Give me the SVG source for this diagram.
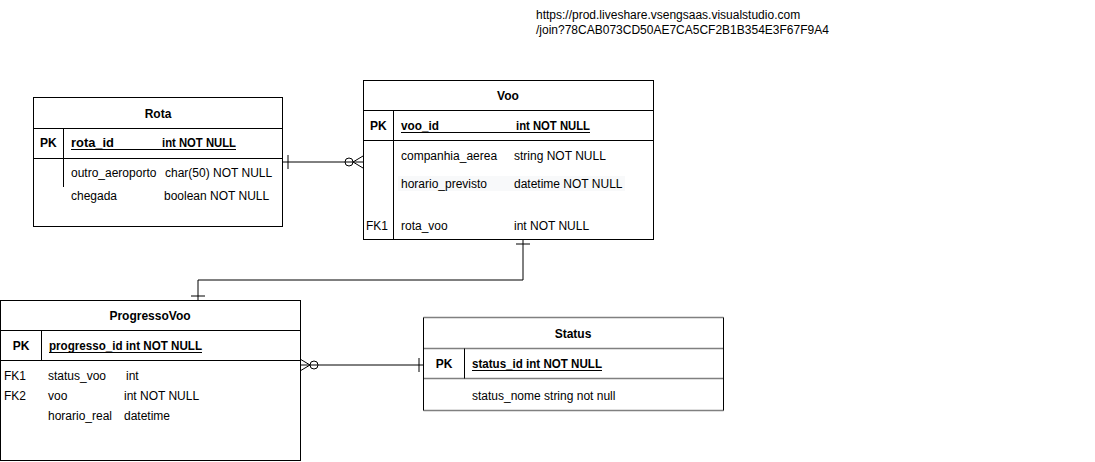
<svg xmlns="http://www.w3.org/2000/svg" width="1095" height="462" viewBox="0 0 1095 462">
<style>
text{font-family:"Liberation Sans",Arial,sans-serif;font-size:12px;fill:#000}
.b{font-weight:bold}
.c{text-anchor:middle}
.box{fill:#fff;stroke:#000;stroke-width:1}
.ln{stroke:#000;stroke-width:1;fill:none}
.gl{stroke:#808080;stroke-width:1.5;fill:none}
.ul{stroke:#000;stroke-width:1}
</style>
<rect width="1095" height="462" fill="#fff"/>
<g id="url">
<text x="536" y="19">https://prod.liveshare.vsengsaas.visualstudio.com</text>
<text x="536" y="34">/join?78CAB073CD50AE7CA5CF2B1B354E3F67F9A4</text>
</g>
<g id="connectors">
<line class="ln" x1="283" y1="162" x2="363" y2="162"/>
<line class="ln" x1="288" y1="155" x2="288" y2="169"/>
<circle class="ln" cx="349" cy="162" r="4" fill="#fff"/>
<path class="ln" d="M353,162 L363,156 M353,162 L363,168"/>
<path class="ln" d="M523,240 V280 H198 V300"/>
<line class="ln" x1="516" y1="244" x2="530" y2="244"/>
<line class="ln" x1="191" y1="296" x2="205" y2="296"/>
<line class="ln" x1="300" y1="365" x2="423" y2="365"/>
<path class="ln" d="M300,359 L310,365 L300,371"/>
<circle class="ln" cx="314" cy="365" r="4" fill="#fff"/>
<line class="ln" x1="419" y1="358" x2="419" y2="372"/>
</g>
<g id="rota">
<rect class="box" x="33.5" y="97.5" width="249" height="129"/>
<line class="ln" x1="33.5" y1="128.5" x2="282.5" y2="128.5"/>
<line class="ln" x1="33.5" y1="158.5" x2="282.5" y2="158.5"/>
<line class="ln" x1="63.5" y1="128.5" x2="63.5" y2="187"/>
<text class="b c" x="158" y="118">Rota</text>
<text class="b" x="40" y="147">PK</text>
<text class="b" x="71" y="147" textLength="43" lengthAdjust="spacingAndGlyphs">rota_id</text>
<text class="b" x="162" y="147" textLength="74" lengthAdjust="spacingAndGlyphs">int NOT NULL</text>
<line class="ul" x1="71" y1="149.5" x2="236" y2="149.5"/>
<text x="71" y="177">outro_aeroporto</text>
<text x="165" y="177">char(50) NOT NULL</text>
<text x="71" y="200">chegada</text>
<text x="164" y="200">boolean NOT NULL</text>
</g>
<g id="voo">
<rect class="box" x="363.5" y="80.5" width="290" height="159"/>
<line class="ln" x1="363.5" y1="110.5" x2="653.5" y2="110.5"/>
<line class="ln" x1="363.5" y1="140.5" x2="653.5" y2="140.5"/>
<line class="ln" x1="393.5" y1="110.5" x2="393.5" y2="239.5"/>
<rect x="398" y="176" width="227" height="15" fill="#f8f9fa"/>
<text class="b c" x="508" y="100">Voo</text>
<text class="b" x="370" y="130">PK</text>
<text class="b" x="401" y="130" textLength="38" lengthAdjust="spacingAndGlyphs">voo_id</text>
<text class="b" x="516" y="130" textLength="74" lengthAdjust="spacingAndGlyphs">int NOT NULL</text>
<line class="ul" x1="401" y1="132.5" x2="590" y2="132.5"/>
<text x="401" y="160">companhia_aerea</text>
<text x="514" y="160">string NOT NULL</text>
<text x="401" y="188">horario_previsto</text>
<text x="514" y="188">datetime NOT NULL</text>
<text x="366" y="230">FK1</text>
<text x="401" y="230">rota_voo</text>
<text x="514" y="230">int NOT NULL</text>
</g>
<g id="progressovoo">
<rect class="box" x="0.5" y="300.5" width="300" height="160"/>
<line class="ln" x1="0.5" y1="330.5" x2="300.5" y2="330.5"/>
<line class="ln" x1="0.5" y1="360.5" x2="300.5" y2="360.5"/>
<line class="ln" x1="41.5" y1="330.5" x2="41.5" y2="360.5"/>
<text class="b c" x="150" y="320">ProgressoVoo</text>
<text class="b c" x="21" y="350">PK</text>
<text class="b" x="49" y="350" textLength="153" lengthAdjust="spacingAndGlyphs">progresso_id int NOT NULL</text>
<line class="ul" x1="49" y1="352.5" x2="202" y2="352.5"/>
<text x="4" y="380">FK1</text>
<text x="48" y="380">status_voo</text>
<text x="126" y="380">int</text>
<text x="4" y="400">FK2</text>
<text x="48" y="400">voo</text>
<text x="124" y="400">int NOT NULL</text>
<text x="48" y="420">horario_real</text>
<text x="124" y="420">datetime</text>
</g>
<g id="status">
<rect x="423.5" y="317.5" width="300" height="93" fill="#fff"/>
<line class="gl" x1="423.5" y1="317.5" x2="723.5" y2="317.5"/>
<line class="gl" x1="423.5" y1="348.5" x2="723.5" y2="348.5"/>
<line class="gl" x1="423.5" y1="378.5" x2="723.5" y2="378.5"/>
<line class="gl" x1="423.5" y1="410.5" x2="723.5" y2="410.5"/>
<line class="ln" x1="423.5" y1="317.5" x2="423.5" y2="410.5"/>
<line class="ln" x1="723.5" y1="317.5" x2="723.5" y2="410.5"/>
<line class="ln" x1="464.5" y1="348.5" x2="464.5" y2="378.5"/>
<text class="b c" x="573" y="338">Status</text>
<text class="b c" x="444" y="368">PK</text>
<text class="b" x="472" y="368" textLength="130" lengthAdjust="spacingAndGlyphs">status_id int NOT NULL</text>
<line class="ul" x1="472" y1="370.5" x2="602" y2="370.5"/>
<text x="472" y="400">status_nome string not null</text>
</g>
</svg>
